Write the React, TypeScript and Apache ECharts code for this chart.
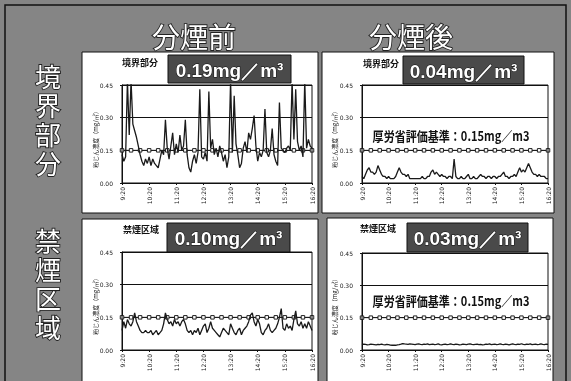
import React, { useEffect, useRef } from "react";
import * as echarts from "echarts";

// ---------- data ----------
const TICK_LABELS = ["9:20", "10:20", "11:20", "12:20", "13:20", "14:20", "15:20", "16:20"];
const POINTS_PER_TICK = 15; // 4-minute readings
const COL_TITLES = ["分煙前", "分煙後"];
const ROW_TITLES = ["境界部分", "禁煙区域"];
const PANEL_TITLES = ["境界部分", "境界部分", "禁煙区域", "禁煙区域"];
const MEANS = ["0.19mg／m³", "0.04mg／m³", "0.10mg／m³", "0.03mg／m³"];
const STANDARD = 0.15;
const STANDARD_TEXT = "厚労省評価基準：0.15mg／m3";
const Y_TICKS = [0, 0.15, 0.3, 0.45];
const Y_NAME = "粉じん濃度（mg/㎥）";

const BORDER_BEFORE = [
  0.13, 0.10, 0.12, 0.47, 0.22, 0.47, 0.27, 0.24, 0.21, 0.17, 0.13, 0.10, 0.08, 0.11, 0.09, 0.12,
  0.08, 0.11, 0.09, 0.08, 0.07, 0.11, 0.15, 0.13, 0.29, 0.16, 0.11, 0.17, 0.23, 0.13, 0.18, 0.14,
  0.22, 0.15, 0.17, 0.29, 0.13, 0.07, 0.05, 0.10, 0.13, 0.09, 0.14, 0.43, 0.12, 0.11, 0.14, 0.10,
  0.42, 0.16, 0.20, 0.13, 0.16, 0.12, 0.17, 0.14, 0.10, 0.13, 0.07, 0.12, 0.47, 0.14, 0.40, 0.18,
  0.13, 0.07, 0.09, 0.16, 0.19, 0.14, 0.23, 0.20, 0.25, 0.31, 0.17, 0.10, 0.14, 0.12, 0.15, 0.34,
  0.14, 0.12, 0.15, 0.25, 0.13, 0.10, 0.08, 0.37, 0.16, 0.15, 0.14, 0.16, 0.17, 0.15, 0.47, 0.20,
  0.43, 0.19, 0.15, 0.17, 0.12, 0.47, 0.16, 0.20, 0.17, 0.16,
];
const BORDER_AFTER = [
  0.03, 0.02, 0.04, 0.06, 0.07, 0.05, 0.05, 0.04, 0.05, 0.08, 0.06, 0.04, 0.03, 0.03, 0.02, 0.03,
  0.02, 0.02, 0.02, 0.03, 0.05, 0.07, 0.05, 0.04, 0.04, 0.03, 0.04, 0.02, 0.02, 0.02, 0.02, 0.02,
  0.02, 0.02, 0.03, 0.02, 0.02, 0.03, 0.03, 0.05, 0.06, 0.04, 0.05, 0.04, 0.03, 0.04, 0.03, 0.03,
  0.02, 0.03, 0.03, 0.02, 0.11, 0.03, 0.02, 0.02, 0.03, 0.02, 0.02, 0.03, 0.04, 0.02, 0.02, 0.03,
  0.02, 0.02, 0.03, 0.04, 0.03, 0.03, 0.02, 0.03, 0.03, 0.02, 0.03, 0.03, 0.02, 0.03, 0.03, 0.04,
  0.05, 0.03, 0.03, 0.02, 0.03, 0.03, 0.04, 0.03, 0.05, 0.07, 0.05, 0.06, 0.05, 0.07, 0.09, 0.07,
  0.05, 0.04, 0.04, 0.03, 0.04, 0.03, 0.03, 0.03, 0.02, 0.02,
];
const NOSMOKE_BEFORE = [
  0.09, 0.13, 0.10, 0.14, 0.12, 0.11, 0.13, 0.17, 0.13, 0.11, 0.09, 0.08, 0.08, 0.09, 0.08, 0.08,
  0.09, 0.07, 0.08, 0.09, 0.07, 0.08, 0.09, 0.12, 0.17, 0.14, 0.12, 0.13, 0.11, 0.14, 0.12, 0.13,
  0.11, 0.13, 0.14, 0.12, 0.09, 0.08, 0.09, 0.07, 0.09, 0.08, 0.10, 0.07, 0.09, 0.11, 0.12, 0.08,
  0.10, 0.13, 0.10, 0.09, 0.08, 0.07, 0.06, 0.08, 0.10, 0.09, 0.08, 0.07, 0.12, 0.10, 0.08, 0.07,
  0.09, 0.10, 0.07, 0.09, 0.10, 0.11, 0.13, 0.16, 0.17, 0.13, 0.11, 0.14, 0.12, 0.08, 0.07, 0.09,
  0.10, 0.12, 0.09, 0.08, 0.09, 0.10, 0.12, 0.15, 0.19, 0.10, 0.09, 0.12, 0.10, 0.11, 0.09, 0.14,
  0.18, 0.12, 0.11, 0.13, 0.10, 0.12, 0.10, 0.13, 0.11, 0.09,
];
const NOSMOKE_AFTER = [
  0.025, 0.027, 0.026, 0.024, 0.025, 0.027, 0.026, 0.025, 0.024, 0.026, 0.025, 0.027, 0.025, 0.024, 0.026, 0.025,
  0.023, 0.022, 0.023, 0.022, 0.024, 0.025, 0.027, 0.030, 0.028, 0.027, 0.026, 0.028, 0.027, 0.026, 0.025, 0.027,
  0.028, 0.026, 0.025, 0.027, 0.026, 0.028, 0.025, 0.026, 0.027, 0.025, 0.026, 0.028, 0.025, 0.024, 0.026, 0.027,
  0.025, 0.026, 0.028, 0.026, 0.025, 0.027, 0.026, 0.024, 0.025, 0.027, 0.026, 0.025, 0.027, 0.028, 0.026, 0.025,
  0.026, 0.027, 0.025, 0.026, 0.024, 0.025, 0.027, 0.026, 0.028, 0.025, 0.026, 0.027, 0.025, 0.026, 0.028, 0.026,
  0.025, 0.027, 0.026, 0.024, 0.026, 0.028, 0.026, 0.025, 0.027, 0.026, 0.029, 0.026, 0.025, 0.027, 0.026, 0.028,
  0.025, 0.026, 0.027, 0.025, 0.026, 0.028, 0.026, 0.025, 0.027, 0.026,
];
const SERIES = [BORDER_BEFORE, BORDER_AFTER, NOSMOKE_BEFORE, NOSMOKE_AFTER];

// categories: 4-minute readings, labelled every hour by TICK_LABELS
const CATEGORIES: string[] = [];
for (let t = 0; t < TICK_LABELS.length; t++) {
  const n = t === TICK_LABELS.length - 1 ? 1 : POINTS_PER_TICK;
  for (let k = 0; k < n; k++) CATEGORIES.push(k === 0 ? TICK_LABELS[t] : "");
}

// ---------- layout ----------
const PANELS = [
  { x: 82, y: 52, w: 236, h: 161, grid: { left: 122, top: 85, width: 190, height: 98 }, title: 140, titleY: 62, box: [168, 55, 123, 28], yname: 95, note: false, noteY: 0 },
  { x: 322, y: 52, w: 232, h: 161, grid: { left: 362, top: 85, width: 186, height: 98 }, title: 381, titleY: 63, box: [403, 56, 121, 28], yname: 334, note: true, noteY: 135 },
  { x: 82, y: 219, w: 236, h: 170, grid: { left: 122, top: 252, width: 190, height: 98 }, title: 141, titleY: 229, box: [167, 223, 123, 29], yname: 95, note: false, noteY: 0 },
  { x: 327, y: 218, w: 226, h: 170, grid: { left: 362, top: 253, width: 186, height: 97 }, title: 378, titleY: 228, box: [407, 223, 121, 29], yname: 334, note: true, noteY: 300 },
];

export default function App() {
  const ref = useRef<HTMLDivElement>(null);
  useEffect(() => {
    if (!ref.current) return;
    const chart = echarts.init(ref.current, null, { renderer: "svg" });

    const graphic: any[] = [
      { type: "rect", z: -20, shape: { x: 0, y: 0, width: 571, height: 381 }, style: { fill: "#858585" } },
      { type: "rect", z: -19, shape: { x: 5, y: 5, width: 561, height: 390 }, style: { fill: "none", stroke: "#111", lineWidth: 1.5 } },
    ];
    COL_TITLES.forEach((t, i) => {
      graphic.push({
        type: "text", z: 50, x: i === 0 ? 194 : 411, y: 36,
        style: { text: t, font: '28px "Noto Sans CJK JP"', fill: "#fff", stroke: "#222", lineWidth: 1.8, align: "center", verticalAlign: "middle" },
      });
    });
    ROW_TITLES.forEach((t, i) => {
      t.split("").forEach((ch, k) => {
        graphic.push({
          type: "text", z: 50, x: 48, y: (i === 0 ? 78 : 242) + k * 29,
          style: { text: ch, font: '26px "Liberation Sans", "Noto Sans CJK JP"', lineHeight: 26, fill: "#fff", stroke: "#222", lineWidth: 1.8, align: "center", verticalAlign: "middle" },
        });
      });
    });
    PANELS.forEach((p, i) => {
      graphic.push({ type: "rect", z: -10, shape: { x: p.x, y: p.y, width: p.w, height: p.h }, style: { fill: "#fff", stroke: "#111", lineWidth: 1 } });
      graphic.push({
        type: "text", z: 50, x: p.title, y: p.titleY,
        style: { text: PANEL_TITLES[i], font: 'bold 9px "Noto Sans CJK JP"', fill: "#111", align: "center", verticalAlign: "middle" },
      });
      const [bx, by, bw, bh] = p.box;
      graphic.push({ type: "rect", z: 40, shape: { x: bx, y: by, width: bw, height: bh }, style: { fill: "#4a4a4a", stroke: "#111", lineWidth: 1 } });
      graphic.push({
        type: "text", z: 50, x: bx + bw / 2, y: by + bh / 2 + 1,
        style: { text: MEANS[i], font: 'bold 19px "Liberation Sans"', fill: "#fff", stroke: "#111", lineWidth: 1, align: "center", verticalAlign: "middle" },
      });
      graphic.push({
        type: "text", z: 50, x: p.yname, y: p.grid.top + p.grid.height / 2 + 4, rotation: Math.PI / 2,
        style: { text: Y_NAME, font: '6px "Noto Sans CJK JP"', fill: "#222", align: "center", verticalAlign: "middle" },
      });
      if (p.note) {
        graphic.push({
          type: "text", z: 50, x: p.grid.left + p.grid.width / 2 - 4, y: p.noteY, scaleX: 0.85,
          style: { text: STANDARD_TEXT, font: 'bold 13px "Noto Sans CJK JP"', fill: "#111", align: "center", verticalAlign: "middle" },
        });
      }
    });

    const option: any = {
      animation: false,
      graphic,
      grid: PANELS.map((p) => ({ ...p.grid, show: true, z: 5, backgroundColor: "transparent", borderColor: "#111", borderWidth: 1 })),
      xAxis: PANELS.map((_, i) => ({
        type: "category", gridIndex: i, data: CATEGORIES, boundaryGap: false,
        axisLine: { lineStyle: { color: "#111" } },
        axisTick: { show: true, length: 2, interval: POINTS_PER_TICK - 1, lineStyle: { color: "#111" } },
        axisLabel: { interval: POINTS_PER_TICK - 1, rotate: 90, fontSize: 6, color: "#222", margin: 4, fontFamily: "DejaVu Sans" },
        splitLine: { show: false },
      })),
      yAxis: PANELS.map((_, i) => ({
        type: "value", gridIndex: i, min: Y_TICKS[0], max: Y_TICKS[Y_TICKS.length - 1], interval: Y_TICKS[1] - Y_TICKS[0],
        axisLine: { show: true, lineStyle: { color: "#111" } },
        axisTick: { show: true, length: 2, lineStyle: { color: "#111" } },
        axisLabel: { fontSize: 6, color: "#222", margin: 9, fontFamily: "DejaVu Sans", formatter: (v: number) => v.toFixed(2) },
        splitLine: { show: true, lineStyle: { color: "#111", width: 1 } },
      })),
      series: SERIES.flatMap((vals, i) => [
        {
          type: "line", xAxisIndex: i, yAxisIndex: i, z: 3, silent: true,
          data: CATEGORIES.map((_, k) => ({ value: STANDARD, symbol: k % 5 === 0 ? "rect" : "none" })),
          symbolSize: 3.5, showAllSymbol: true,
          lineStyle: { color: "#222", width: 1 },
          itemStyle: { color: "#fff", borderColor: "#222", borderWidth: 1 },
        },
        {
          type: "line", xAxisIndex: i, yAxisIndex: i, z: 4, silent: true, clip: true,
          data: vals, showSymbol: false,
          lineStyle: { color: "#1a1a1a", width: 1.3 },
        },
      ]),
    };
    chart.setOption(option);
    return () => chart.dispose();
  }, []);
  return <div ref={ref} style={{ position: "fixed", left: 0, top: 0, width: 571, height: 381 }} />;
}
